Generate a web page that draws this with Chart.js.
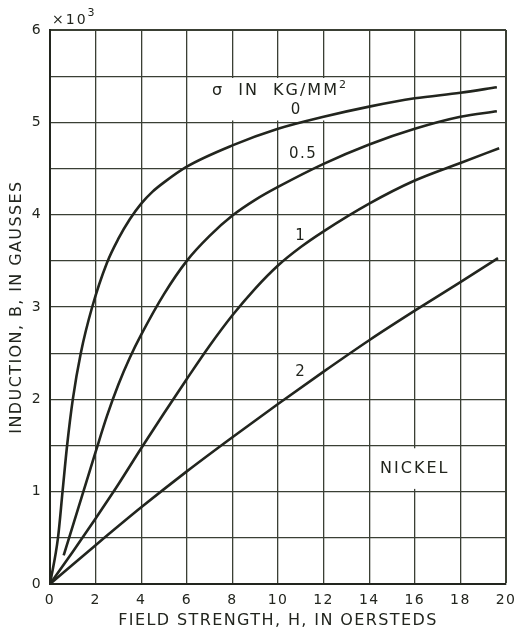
<!DOCTYPE html>
<html>
<head>
<meta charset="utf-8">
<script src="https://cdn.jsdelivr.net/npm/chart.js@4.4.1/dist/chart.umd.min.js"></script>
<style>
  html, body { margin: 0; padding: 0; background: #fff; }
  #wrap { width: 520px; height: 630px; }
</style>
</head>
<body>
<div id="wrap"><canvas id="bh-chart"></canvas></div>
<script>
/* B-H curves for nickel under tension */
let stressLabels = ['0', '0.5', '1', '2']

let h0 = [0, 0.35, 0.55, 0.75, 1, 1.35, 1.85, 2.5, 3, 3.5, 4, 4.5, 5, 6, 8, 10, 12, 14, 16, 18, 19.6]
let b0 = [0, 0.5, 1, 1.5, 2, 2.5, 3, 3.48, 3.74, 3.95, 4.12, 4.25, 4.35, 4.52, 4.75, 4.93, 5.06, 5.17, 5.26, 5.32, 5.38]

let h05 = [0.6, 1, 1.5, 2, 2.5, 3, 3.5, 4, 5, 6, 7, 8, 9, 10, 12, 14, 16, 18, 19.6]
let b05 = [0.31, 0.63, 1.03, 1.43, 1.82, 2.16, 2.45, 2.7, 3.14, 3.5, 3.77, 3.99, 4.16, 4.3, 4.55, 4.76, 4.93, 5.06, 5.12]

let h1 = [0, 1, 2, 3, 4, 5, 6, 7, 8, 9, 10, 11, 12, 14, 16, 18, 19.7]
let b1 = [0, 0.35, 0.71, 1.08, 1.47, 1.85, 2.22, 2.58, 2.91, 3.2, 3.45, 3.65, 3.82, 4.12, 4.37, 4.56, 4.72]

let h2 = [0, 2, 4, 6, 8, 10, 12, 14, 16, 18, 19.65]
let b2 = [0, 0.42, 0.83, 1.22, 1.59, 1.95, 2.3, 2.64, 2.96, 3.27, 3.53]

let xTicks = [0, 2, 4, 6, 8, 10, 12, 14, 16, 18, 20]
let yTicks = [0, 1, 2, 3, 4, 5, 6]

let ink = '#22251e'
let gridInk = '#3a3f34'
let fontFamily = '"DejaVu Sans", sans-serif'

function toPoints(hs, bs) {
    return hs.map(function(h, i) { return { x: h, y: bs[i] } })
}

let seriesH = [h0, h05, h1, h2]
let seriesB = [b0, b05, b1, b2]

let datasets = seriesH.map(function(hs, i) {
    return {
        label: stressLabels[i],
        data: toPoints(hs, seriesB[i]),
        showLine: true,
        borderColor: ink,
        borderWidth: 2.6,
        pointRadius: 0,
        cubicInterpolationMode: 'monotone',
        fill: false
    }
})

// wide lettering like the original drawing
let spacingPlugin = {
    id: 'spacing',
    beforeDraw: function(chart) { chart.ctx.letterSpacing = '1.4px' }
}

// white boxes and captions drawn over the grid, under the curves
let notesPlugin = {
    id: 'notes',
    beforeDatasetsDraw: function(chart) {
        let ctx = chart.ctx
        let x = chart.scales.x
        let y = chart.scales.y
        ctx.save()

        // box for the stress caption
        ctx.fillStyle = '#fff'
        ctx.fillRect(x.getPixelForValue(6.5), y.getPixelForValue(5.48), x.getPixelForValue(13.3) - x.getPixelForValue(6.5), y.getPixelForValue(5.02) - y.getPixelForValue(5.48))
        // box for NICKEL
        ctx.fillRect(x.getPixelForValue(14.2), y.getPixelForValue(1.47), x.getPixelForValue(17.8) - x.getPixelForValue(14.2), y.getPixelForValue(1.03) - y.getPixelForValue(1.47))

        ctx.fillStyle = ink
        ctx.textBaseline = 'middle'
        ctx.textAlign = 'left'
        ctx.letterSpacing = '2px'
        ctx.font = '16px ' + fontFamily
        let capX = x.getPixelForValue(7.1)
        let capY = y.getPixelForValue(5.34)
        ctx.fillText('σ  IN  KG/MM', capX, capY)
        let w = ctx.measureText('σ  IN  KG/MM').width
        ctx.font = '11px ' + fontFamily
        ctx.fillText('2', capX + w, capY - 6)

        ctx.letterSpacing = '1.5px'
        ctx.font = '15px ' + fontFamily
        ctx.textAlign = 'center'
        let curveNotes = [[10.8, 5.13], [11.1, 4.66], [11.0, 3.77], [11.0, 2.29]]
        curveNotes.forEach(function(p, i) {
            ctx.fillText(stressLabels[i], x.getPixelForValue(p[0]), y.getPixelForValue(p[1]))
        })

        ctx.letterSpacing = '2px'
        ctx.font = '16px ' + fontFamily
        ctx.fillText('NICKEL', x.getPixelForValue(16), y.getPixelForValue(1.25))

        // multiplier above the y axis
        ctx.textAlign = 'left'
        ctx.letterSpacing = '2px'
        ctx.font = '14px ' + fontFamily
        ctx.fillText('×10', 52, 20)
        let mw = ctx.measureText('×10').width
        ctx.font = '11px ' + fontFamily
        ctx.fillText('3', 52 + mw, 13)
        ctx.restore()
    }
}

let chartCanvas = document.querySelector('#bh-chart')
let bhChart = new Chart(chartCanvas.getContext('2d'), {
    type: 'scatter',
    data: { datasets: datasets },
    options: {
        responsive: true,
        maintainAspectRatio: false,
        animation: false,
        layout: { padding: { top: 30, right: 14, left: 0, bottom: 0 } },
        plugins: { legend: { display: false }, tooltip: { enabled: false } },
        scales: {
            x: {
                type: 'linear',
                min: 0,
                max: 20,
                afterBuildTicks: function(scale) {
                    scale.ticks = xTicks.map(function(v) { return { value: v } })
                },
                afterFit: function(scale) {
                    scale.height = 46
                    scale.paddingLeft = 0
                    scale.paddingRight = 0
                },
                ticks: { color: ink, font: { family: fontFamily, size: 14 }, padding: 8, maxRotation: 0 },
                grid: {
                    color: gridInk,
                    lineWidth: function(c) { return c.tick && c.tick.value === 20 ? 2 : 1.3 },
                    drawTicks: false
                },
                border: { color: ink, width: 2 },
                title: {
                    display: true,
                    text: 'FIELD STRENGTH, H, IN OERSTEDS',
                    color: ink,
                    font: { family: fontFamily, size: 16 },
                    padding: { top: 0, bottom: 0 }
                }
            },
            y: {
                type: 'linear',
                min: 0,
                max: 6,
                afterBuildTicks: function(scale) {
                    let t = []
                    for (let i = 0; i < yTicks.length; i++) {
                        t.push({ value: yTicks[i] })
                        if (i < yTicks.length - 1) t.push({ value: yTicks[i] + 0.5 })
                    }
                    scale.ticks = t
                },
                afterFit: function(scale) {
                    scale.width = 50
                    scale.paddingTop = 0
                    scale.paddingBottom = 0
                },
                ticks: {
                    color: ink,
                    font: { family: fontFamily, size: 14 },
                    padding: 8,
                    callback: function(v) { return Number.isInteger(v) ? v : '' }
                },
                grid: {
                    color: gridInk,
                    lineWidth: function(c) { return c.tick && c.tick.value === 6 ? 2 : 1.3 },
                    drawTicks: false
                },
                border: { color: ink, width: 2 },
                title: {
                    display: true,
                    text: 'INDUCTION, B, IN GAUSSES',
                    color: ink,
                    font: { family: fontFamily, size: 16 },
                    padding: { top: 7, bottom: 0 }
                }
            }
        }
    },
    plugins: [spacingPlugin, notesPlugin]
})
</script>
</body>
</html>
